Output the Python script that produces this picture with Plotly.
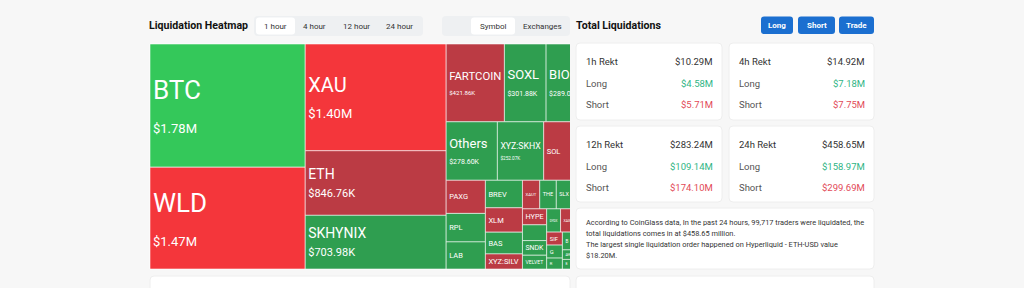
import plotly.graph_objects as go

W, H = 1024, 288

# ---------------- data ----------------
# The reference view is clipped at its right edge; the entry with an empty label stands for the
# tile that lies behind the clip (its value is estimated from the visible geometry).
symbols = ["BTC", "WLD", "XAU", "ETH", "SKHYNIX", "FARTCOIN", "SOXL", "BIO", "Others",
           "XYZ:SKHX", "SOL", "PAXG", "RPL", "LAB", "BREV", "XLM", "BAS", "XYZ:SILV",
           "XAUT", "THE", "SLX", "ALL", "HYPE", "", "SNDK", "VELVET", "DYDX", "XAG",
           "XYZ:K", "SIF", "G", "R", "B", "AIG", "A", "AER", "B", "MA", "C"]
liq_usd = [1.78e6, 1.47e6, 1.40e6, 846.76e3, 703.98e3, 421.86e3, 301.88e3, 289e3, 278.60e3,
           252.07e3, 230e3, 121e3, 104e3, 99e3, 95e3, 84e3, 75e3, 52e3,
           46e3, 44e3, 42e3, 37e3, 36e3, 35.5e3, 33e3, 31e3, 30e3, 28e3,
           27e3, 19e3, 19e3, 16e3, 15e3, 12e3, 12e3, 11e3, 11e3, 10e3, 10e3]
bias = ["long+", "short+", "short+", "short", "long", "short", "long", "long", "long",
        "long", "short", "short", "long", "long", "long", "short", "long", "short",
        "short", "long", "long", "long", "short", "long", "long", "long", "long", "short",
        "short", "short", "long", "long", "long", "long", "long", "long", "long", "long", "long"]

periods = ["1h Rekt", "4h Rekt", "12h Rekt", "24h Rekt"]
rekt_total = ["$10.29M", "$14.92M", "$283.24M", "$458.65M"]
rekt_long = ["$4.58M", "$7.18M", "$109.14M", "$158.97M"]
rekt_short = ["$5.71M", "$7.75M", "$174.10M", "$299.69M"]

time_tabs = ["1 hour", "4 hour", "12 hour", "24 hour"]
view_tabs = ["Symbol", "Exchanges"]
action_buttons = ["Long", "Short", "Trade"]
summary_lines = [
    "According to CoinGlass data, In the past 24 hours, 99,717 traders were liquidated, the",
    "total liquidations comes in at $458.65 million.",
    "The largest single liquidation order happened on Hyperliquid - ETH-USD value",
    "$18.20M.",
]

# ---------------- styles ----------------
FONT = "Roboto"
BG = "#f7f7f7"
colors_map = {"long+": "#34c85a", "long": "#2f9e50", "short+": "#f4363b", "short": "#bb3b44"}
GREEN_TXT = "#2fb585"
RED_TXT = "#e24a57"
DARK = "#222222"


def X(px):
    return px / W


def Y(py):
    return 1 - py / H


def fmt(v):
    return f"${v/1e6:.2f}M" if v >= 1e6 else f"${v/1e3:.2f}K"


def name_size(v):
    if v >= 1.45e6:
        return 26
    if v >= 1.0e6:
        return 20
    if v >= 6e5:
        return 14
    if v >= 2.5e5:
        return 13
    return 7.5


def val_size(v):
    if v >= 1e6:
        return 13
    if v >= 6e5:
        return 11
    return 7


def label_text(s, v):
    if not s:
        return ""
    if v >= 2.5e5:
        return f"{s}<br><span style='font-size:{val_size(v)}px'>{fmt(v)}</span>"
    return s


ids = ["root"] + [f"{s}#{i}" for i, s in enumerate(symbols)]
labels = [""] + symbols
parents = [""] + ["root"] * len(symbols)
values = [sum(liq_usd)] + liq_usd
texts = [""] + [label_text(s, v) for s, v in zip(symbols, liq_usd)]
sizes = [8] + [name_size(v) for v in liq_usd]
cols = [BG] + [colors_map[b] for b in bias]

fig = go.Figure(go.Treemap(
    ids=ids,
    labels=labels,
    parents=parents,
    values=values,
    branchvalues="total",
    text=texts,
    textinfo="text",
    textposition="middle left",
    textfont=dict(family=FONT, color="white", size=sizes),
    marker=dict(colors=cols, pad=dict(t=0, l=0, r=0, b=0),
                line=dict(color="rgba(255,255,255,0.55)", width=1)),
    tiling=dict(packing="squarify", squarifyratio=1.618, pad=0),
    pathbar=dict(visible=False),
    sort=True,
    hoverinfo="skip",
    domain=dict(x=[X(150), X(586)], y=[Y(269), Y(44)]),
))

shapes = []
ann = []


def rrect(x0, y0, x1, y1, r, fill, line=None):
    p = (f"M{X(x0+r)},{Y(y0)} L{X(x1-r)},{Y(y0)} Q{X(x1)},{Y(y0)} {X(x1)},{Y(y0+r)} "
         f"L{X(x1)},{Y(y1-r)} Q{X(x1)},{Y(y1)} {X(x1-r)},{Y(y1)} "
         f"L{X(x0+r)},{Y(y1)} Q{X(x0)},{Y(y1)} {X(x0)},{Y(y1-r)} "
         f"L{X(x0)},{Y(y0+r)} Q{X(x0)},{Y(y0)} {X(x0+r)},{Y(y0)} Z")
    shapes.append(dict(type="path", xref="paper", yref="paper", path=p, fillcolor=fill,
                       line=dict(color=line or fill, width=1 if line else 0), layer="above"))


def text(x, y, s, size=9, color=DARK, xanchor="left", bold=False, family=FONT):
    ann.append(dict(x=X(x), y=Y(y), xref="paper", yref="paper", text=f"<b>{s}</b>" if bold else s,
                    showarrow=False, xanchor=xanchor, yanchor="middle", borderpad=0,
                    font=dict(family=family, size=size, color=color)))


# cover the clipped part of the treemap
shapes.append(dict(type="rect", xref="paper", yref="paper", x0=X(570), x1=1, y0=0, y1=Y(40),
                   fillcolor=BG, line=dict(width=0), layer="above"))

# header left
text(148, 25, "Liquidation Heatmap", size=10.6, bold=True, color="#111111")
rrect(254, 16, 423, 36, 4, "#eef0f2")
rrect(256, 17.5, 295, 34.5, 3, "#ffffff")
tab_x = [275, 314, 356, 399]
for tx, t in zip(tab_x, time_tabs):
    text(tx, 26, t, size=8, color="#333333", xanchor="center")
rrect(442, 16, 570, 36, 4, "#eef0f2")
rrect(471, 17.5, 515, 34.5, 3, "#ffffff")
for tx, t in zip([493, 542], view_tabs):
    text(tx, 26, t, size=8, color="#333333", xanchor="center")

# header right
text(575, 25, "Total Liquidations", size=10.6, bold=True, color="#111111")
for (x0, x1), b in zip([(761, 793), (798, 835), (839, 874)], action_buttons):
    rrect(x0, 16.5, x1, 34, 3, "#1b6fd0")
    text((x0 + x1) / 2, 25.5, b, size=8, color="white", xanchor="center", bold=True)

# rekt cards
card_pos = [(576, 722, 43, 120), (729, 874, 43, 120), (576, 722, 126, 202), (729, 874, 126, 202)]
for (x0, x1, y0, y1), p, tot, lo, sh in zip(card_pos, periods, rekt_total, rekt_long, rekt_short):
    rrect(x0, y0, x1, y1, 4, "#ffffff", line="#eeeeee")
    text(x0 + 9, y0 + 18, p, size=9.5, color="#333333")
    text(x1 - 8, y0 + 18, tot, size=9.5, color="#333333", xanchor="right")
    text(x0 + 9, y0 + 40, "Long", size=9.5, color="#555555")
    text(x1 - 8, y0 + 40, lo, size=9.5, color=GREEN_TXT, xanchor="right")
    text(x0 + 9, y0 + 61, "Short", size=9.5, color="#555555")
    text(x1 - 8, y0 + 61, sh, size=9.5, color=RED_TXT, xanchor="right")

# summary card
rrect(576, 208, 874, 269, 4, "#ffffff", line="#eeeeee")
for i, line in enumerate(summary_lines):
    text(585, 222 + i * 11.2, line, size=7.4, color="#333333")

# bottom cards
rrect(576, 276, 874, 300, 4, "#ffffff", line="#eeeeee")
rrect(150, 276, 570, 300, 4, "#ffffff", line="#eeeeee")

fig.update_layout(
    width=W, height=H,
    margin=dict(l=0, r=0, t=0, b=0),
    paper_bgcolor=BG, plot_bgcolor=BG,
    shapes=shapes, annotations=ann,
    font=dict(family=FONT),
    showlegend=False,
)

fig.write_html("out.html")
